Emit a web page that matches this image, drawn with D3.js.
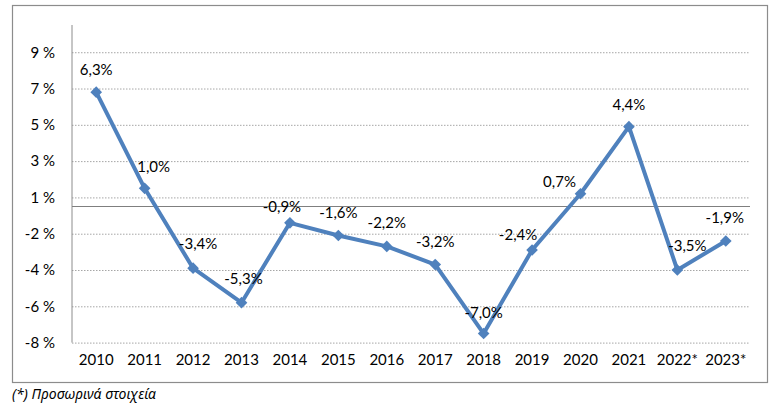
<!DOCTYPE html>
<html>
<head>
<meta charset="utf-8">
<script src="https://cdn.jsdelivr.net/npm/d3@7"></script>
<style>
  body { margin: 0; background: #fff; }
  text { font-family: Lato, "Open Sans", sans-serif; fill: #000; }
  .gridline { stroke: #a6a6a6; stroke-width: 1; stroke-dasharray: 1.5 1.5; }
  .footnote { font-family: "Noto Sans", "Open Sans", sans-serif; font-style: italic; }
</style>
</head>
<body>
<svg id="chart" width="780" height="409"></svg>
<script>
// Chart data
var YEARS = ["2010", "2011", "2012", "2013", "2014", "2015", "2016", "2017",
             "2018", "2019", "2020", "2021", "2022*", "2023*"];
var GROWTH = [6.3, 1.0, -3.4, -5.3, -0.9, -1.6, -2.2, -3.2, -7.0, -2.4, 0.7, 4.4, -3.5, -1.9];
var Y_TICKS = [8.5, 6.5, 4.5, 2.5, 0.5, -1.5, -3.5, -5.5, -7.5];
var FOOTNOTE = "(*) Προσωρινά στοιχεία";

// label nudges (px) relative to the default "above" spot
var LABEL_DX = [0, 9, 5, 2, -8, 0, 0, 0, 0, -14, -21, 0, 10, -1];
var LABEL_DY = [0, 0, -2, -2, 6, -1, -2, -1, 1, 7, 10, 0, -2, -1];

// Layout
var PLOT_LEFT = 72, PLOT_RIGHT = 750, PLOT_TOP = 25, PLOT_BOTTOM = 342.6;
var LINE_COLOR = "#4f81bd";
var FONT_SIZE = 15;

var svg = d3.select("#chart");

// outer frame
svg.append("rect")
    .attr("x", 12.5).attr("y", 5.5)
    .attr("width", 755).attr("height", 377)
    .attr("fill", "none")
    .attr("stroke", "#8c8c8c")
    .attr("stroke-width", 1.2);

var xScale = d3.scaleBand().domain(YEARS).range([PLOT_LEFT, PLOT_RIGHT]);
var yScale = d3.scaleLinear().domain([-7.5, 10]).range([PLOT_BOTTOM, PLOT_TOP]);

function excelRound(v) {
    return (v < 0 ? -1 : 1) * Math.round(Math.abs(v));
}

// Gridlines + y labels
var yAxis = d3.axisLeft(yScale)
    .tickValues(Y_TICKS)
    .tickSize(-(PLOT_RIGHT - PLOT_LEFT))
    .tickPadding(17)
    .tickFormat(d => excelRound(d) + " %");

var yG = svg.append("g")
    .attr("transform", "translate(" + PLOT_LEFT + ",0)")
    .call(yAxis);
yG.select(".domain").remove();
yG.selectAll(".tick line").attr("class", "gridline");
yG.selectAll(".tick text")
    .style("font-family", "Lato, 'Open Sans', sans-serif")
    .style("font-size", FONT_SIZE + "px")
    .attr("fill", "#000");

// vertical axis line
svg.append("line")
    .attr("x1", PLOT_LEFT).attr("x2", PLOT_LEFT)
    .attr("y1", PLOT_TOP).attr("y2", PLOT_BOTTOM)
    .attr("stroke", "#8c8c8c").attr("stroke-width", 1);

// zero line
svg.append("line")
    .attr("x1", PLOT_LEFT).attr("x2", PLOT_RIGHT)
    .attr("y1", yScale(0)).attr("y2", yScale(0))
    .attr("stroke", "#7f7f7f").attr("stroke-width", 1.2);

// x labels
var xAxis = d3.axisBottom(xScale).tickSize(0).tickPadding(12);
var xG = svg.append("g")
    .attr("transform", "translate(0," + PLOT_BOTTOM + ")")
    .call(xAxis);
xG.select(".domain").remove();
xG.selectAll(".tick text")
    .style("font-family", "Lato, 'Open Sans', sans-serif")
    .style("font-size", FONT_SIZE + "px")
    .attr("fill", "#000");

var cx = (d, i) => xScale(YEARS[i]) + xScale.bandwidth() / 2;

// series line
var lineGenerator = d3.line()
    .x((d, i) => cx(d, i))
    .y(d => yScale(d));

svg.append("path")
    .datum(GROWTH)
    .attr("d", lineGenerator)
    .attr("fill", "none")
    .attr("stroke", LINE_COLOR)
    .attr("stroke-width", 4)
    .attr("stroke-linejoin", "round");

// diamond markers
var diamond = d3.symbol().type(d3.symbolSquare).size(68);
svg.selectAll(".marker")
    .data(GROWTH)
    .enter()
    .append("path")
    .attr("class", "marker")
    .attr("d", diamond)
    .attr("transform", (d, i) => "translate(" + cx(d, i) + "," + yScale(d) + ") rotate(45)")
    .attr("fill", LINE_COLOR);

// data labels
svg.selectAll(".data-label")
    .data(GROWTH)
    .enter()
    .append("text")
    .attr("class", "data-label")
    .attr("text-anchor", "middle")
    .attr("x", (d, i) => cx(d, i) + LABEL_DX[i])
    .attr("y", (d, i) => yScale(d) - 22 + LABEL_DY[i])
    .attr("dy", "0.35em")
    .style("font-size", FONT_SIZE + "px")
    .text(d => d.toFixed(1).replace(".", ",") + "%");

// footnote
svg.append("text")
    .attr("class", "footnote")
    .attr("x", 12)
    .attr("y", 399)
    .style("font-size", "14px")
    .text(FOOTNOTE);
</script>
</body>
</html>
